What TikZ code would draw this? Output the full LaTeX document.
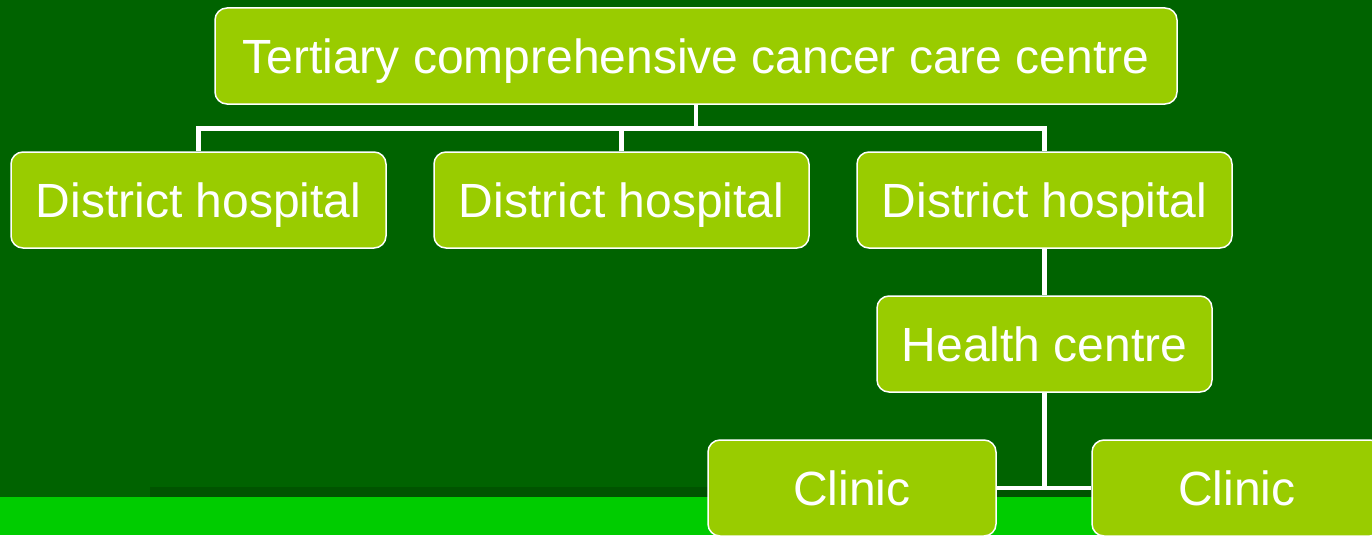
\documentclass[tikz,border=0pt]{standalone}
\usepackage{fontspec}
\setmainfont{Liberation Sans}
\definecolor{bgdark}{RGB}{0,99,0}
\definecolor{bgband}{RGB}{0,84,0}
\definecolor{strip}{RGB}{0,204,0}
\definecolor{boxgreen}{RGB}{153,204,0}
\begin{document}
\begin{tikzpicture}[x=1pt,y=-1pt,
  box/.style={draw=white, line width=1.5pt, fill=boxgreen, rounded corners=12pt,
    text=white, font=\fontsize{48}{56}\selectfont, inner sep=0pt,
    text height=34.4pt, text depth=0pt, minimum height=96pt},
  link/.style={draw=white, line width=4.5pt, line join=miter}]
\useasboundingbox (0,0) rectangle (1372,535);
\clip (0,0) rectangle (1372,535);
\fill[bgdark] (0,0) rectangle (1372,535);
\fill[bgband] (150,487) rectangle (1372,497);
\fill[strip] (0,497) rectangle (1372,535);

\node[box, minimum width=962pt] (main) at (696,56) {Tertiary comprehensive cancer care centre};
\node[box, minimum width=375pt] (d1) at (198.5,200) {District hospital};
\node[box, minimum width=375pt] (d2) at (621.5,200) {District hospital};
\node[box, minimum width=375pt] (d3) at (1044.5,200) {District hospital};
\node[box, minimum width=335pt] (hc) at (1044.5,344) {Health centre};
\node[box, minimum width=288pt] (c1) at (852,488) {Clinic};
\node[box, minimum width=290pt] (c2) at (1237,488) {Clinic};

\coordinate (j) at (696,128.5);
\draw[link] (main.south) -- (j);
\draw[link] (d1.north) |- (j) -| (d3.north);
\draw[link] (d2.north) -- (d2.north |- j);
\draw[link] (d3.south) -- (hc.north);
\draw[link] (hc.south) -- (hc.south |- c1.east);
\draw[link] (c1.east) -- (c2.west);
\end{tikzpicture}
\end{document}
